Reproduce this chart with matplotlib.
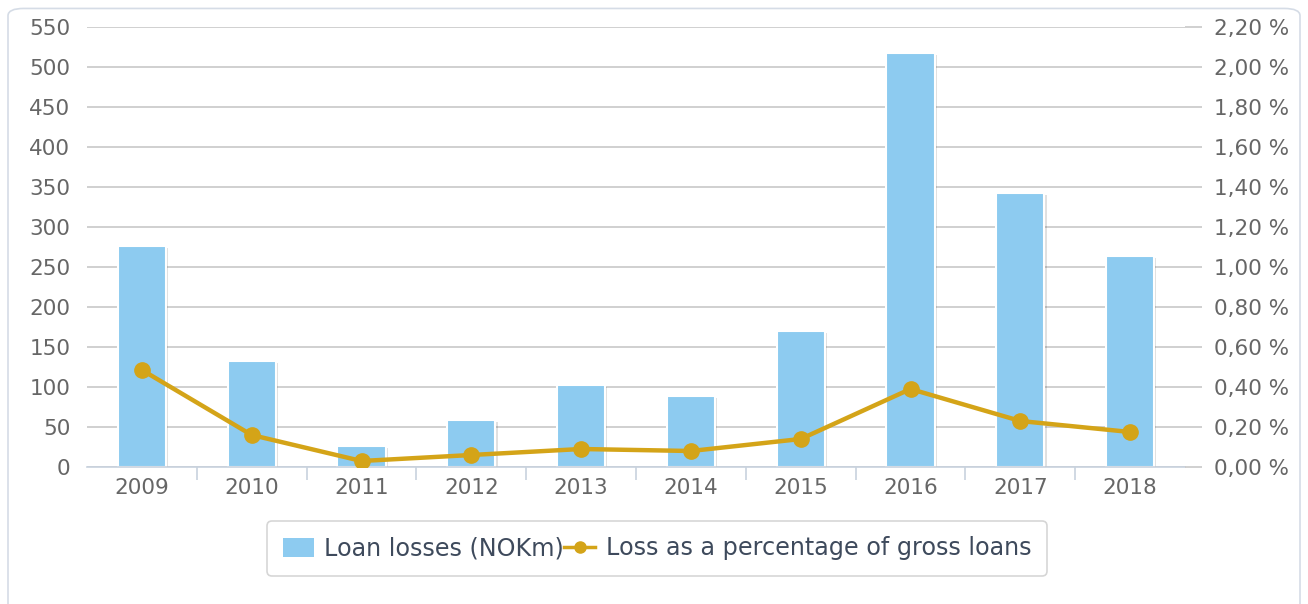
import numpy as np
import matplotlib
matplotlib.use('Agg')
import matplotlib.pyplot as plt
import matplotlib.patheffects as pe
from matplotlib.patches import FancyBboxPatch, Patch
from matplotlib.lines import Line2D

years = ['2009', '2010', '2011', '2012', '2013', '2014', '2015', '2016', '2017', '2018']
loan_losses = [276, 132, 26, 59, 102, 89, 170, 517, 342, 264]
loss_pct = [0.485, 0.16, 0.03, 0.06, 0.09, 0.08, 0.14, 0.39, 0.23, 0.175]

left_ticks = np.arange(0, 551, 50)
right_ticks = np.arange(0, 2.21, 0.2)
right_labels = [('%.2f %%' % v).replace('.', ',') for v in right_ticks]

bar_col = '#8DCBF0'
line_col = '#D4A418'
txt_col = '#666666'
grid_col = '#C8C8C8'
fam = 'DejaVu Sans'
fs = 15.5

plt.rcParams['font.family'] = fam
fig = plt.figure(figsize=(13.08, 6.04), dpi=100)

# outer frame
frame = FancyBboxPatch((8/1308, -0.05), 1292/1308, 0.95 + 0.086, transform=fig.transFigure,
                       boxstyle='round,pad=0,rounding_size=0.012', fc='white', ec='#D5DCE6', lw=1.2,
                       zorder=-5)
fig.patches.append(frame)

ax = fig.add_axes([87/1308, (604-467)/604, (1185-87)/1308, (467-27)/604])
ax.set_facecolor('none')
x = np.arange(len(years))
bars = ax.bar(x, loan_losses, width=0.44, color=bar_col, edgecolor='white', linewidth=1.5, zorder=2)
for b in bars:
    b.set_path_effects([pe.SimplePatchShadow(offset=(1.5, -1.5), shadow_rgbFace='#000000', alpha=0.12),
                        pe.Normal()])
ax.set_xlim(-0.5, len(years) - 0.5)
ax.set_ylim(0, 550)
ax.set_yticks(left_ticks)
ax.set_yticklabels([str(v) for v in left_ticks], family=fam)
ax.yaxis.grid(True, color=grid_col, lw=1.2, zorder=0)
ax.set_axisbelow(True)
ax.set_xticks(x)
ax.set_xticklabels(years, family=fam)
ax.set_xticks(np.arange(0.5, len(years) - 0.5, 1), minor=True)
ax.tick_params(axis='x', which='major', length=0, pad=8, labelsize=fs, labelcolor=txt_col)
ax.tick_params(axis='x', which='minor', length=9, color='#C8D2DE', width=1.2)
ax.tick_params(axis='y', length=0, pad=12, labelsize=fs, labelcolor=txt_col)
for s in ['top', 'right', 'left']:
    ax.spines[s].set_visible(False)
ax.spines['bottom'].set_color('#C8D2DE')
ax.spines['bottom'].set_linewidth(1.2)

ax2 = ax.twinx()
ax2.plot(x, loss_pct, color=line_col, lw=3.2, marker='o', markersize=11,
         markerfacecolor=line_col, markeredgecolor=line_col, zorder=3)
ax2.set_ylim(0, 2.2)
ax2.set_yticks(right_ticks)
ax2.set_yticklabels(right_labels, family=fam)
ax2.tick_params(axis='y', length=12, width=1.2, color=grid_col, pad=9, labelsize=fs, labelcolor=txt_col)
for s in ['top', 'right', 'left', 'bottom']:
    ax2.spines[s].set_visible(False)

handles = [Patch(facecolor=bar_col, edgecolor='none'),
           Line2D([0], [0], color=line_col, lw=2.5, marker='o', markersize=8)]
leg = fig.legend(handles, ['Loan losses (NOKm)', 'Loss as a percentage of gross loans'],
                 loc='center', bbox_to_anchor=(657/1308, 1 - 548.5/604), ncol=2,
                 frameon=True, prop={'family': fam, 'size': 17.2}, handlelength=1.3,
                 handleheight=0.85, handletextpad=0.45, columnspacing=0.0, borderpad=0.65,
                 fancybox=True)
leg.get_frame().set_edgecolor('#CCCCCC')
leg.get_frame().set_linewidth(1.2)
for t in leg.get_texts():
    t.set_color('#3E4A5C')

fig.savefig('out.png', dpi=100)
